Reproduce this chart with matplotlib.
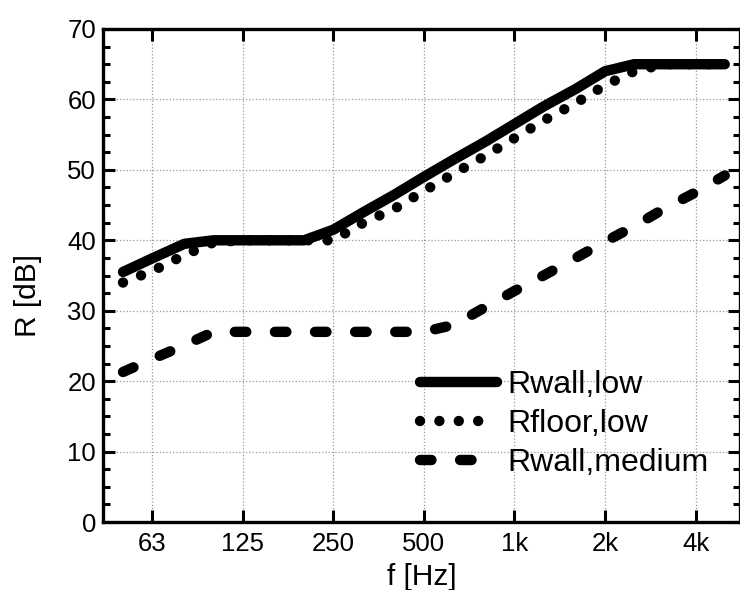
import numpy as np
import matplotlib
matplotlib.use("Agg")
import matplotlib.pyplot as plt
from matplotlib.ticker import FixedLocator, NullLocator, MultipleLocator

plt.rcParams['font.family'] = ['Liberation Sans', 'DejaVu Sans']

# third-octave band centre frequencies [Hz]
freqs = [50, 63, 80, 100, 125, 160, 200, 250, 315, 400, 500,
         630, 800, 1000, 1250, 1600, 2000, 2500, 3150, 4000, 5000]

r_wall_low = [35.5, 37.5, 39.5, 40, 40, 40, 40, 41.5, 44, 46.5, 49,
              51.5, 54, 56.5, 59, 61.5, 64, 65, 65, 65, 65]
r_floor_low = [34, 35.7, 37.9, 39.7, 40, 40, 40, 40, 42.5, 44.5, 47,
               49.5, 52, 54.5, 57, 59.5, 62, 64, 65, 65, 65]
r_wall_medium = [21.3, 23.2, 25.1, 27, 27, 27, 27, 27, 27, 27, 27,
                 28, 30.5, 32.8, 35, 37.5, 39.8, 42, 44.5, 46.8, 49.2]

xticks = [62.5, 125, 250, 500, 1000, 2000, 4000]
xtick_labels = ["63", "125", "250", "500", "1k", "2k", "4k"]


fig = plt.figure(figsize=(7.4, 5.9), dpi=100)
ax = fig.add_axes([103 / 740, 1 - 522 / 590, 637 / 740, 493 / 590])

lw = 7.5
ax.plot(freqs, r_wall_low, color="k", lw=lw, solid_capstyle="round",
        solid_joinstyle="round", label="Rwall,low")
ax.plot(freqs, r_floor_low, color="k", lw=lw, linestyle=(0, (0.001, 1.86)),
        dash_capstyle="round", label="Rfloor,low")
ax.plot(freqs, r_wall_medium, color="k", lw=lw, linestyle=(0, (1.1, 2.75)),
        dash_capstyle="round", label="Rwall,medium")

ax.set_xscale("log")
ax.set_xlim(42.9, 5620)
ax.set_ylim(0, 70)

ax.xaxis.set_major_locator(FixedLocator(xticks))
ax.xaxis.set_minor_locator(NullLocator())
ax.set_xticklabels(xtick_labels)
ax.yaxis.set_major_locator(MultipleLocator(10))
ax.yaxis.set_minor_locator(MultipleLocator(2.5))

ax.tick_params(which="both", direction="in", top=True, right=True,
               width=2.2, labelsize=18.5)
ax.tick_params(which="major", length=8.5)
ax.tick_params(which="minor", length=5)
ax.tick_params(axis="x", pad=7)
ax.tick_params(axis="y", pad=5)
for sp in ax.spines.values():
    sp.set_linewidth(2.4)

ax.grid(True, which="major", linestyle=":", color="0.6", lw=0.9)

ax.set_xlabel("f [Hz]", fontsize=21.5, va="top")
ax.xaxis.set_label_coords(0.5, -0.083)
ax.set_ylabel("R [dB]", fontsize=21.5)
ax.yaxis.set_label_coords(-0.096, 0.46)

ax.legend(loc="center left", bbox_to_anchor=(420 / 740, 1 - 424 / 590),
          bbox_transform=fig.transFigure, frameon=False, fontsize=23,
          handlelength=2.4, handletextpad=0.33, labelspacing=0.28,
          borderpad=0, borderaxespad=0)

fig.savefig("out.png", dpi=100)
